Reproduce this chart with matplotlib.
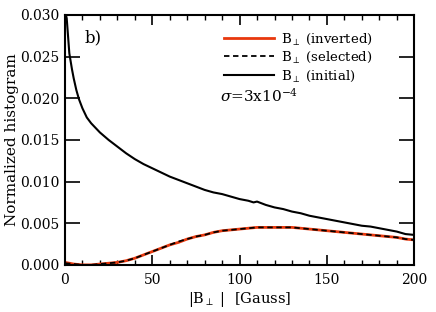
import matplotlib
matplotlib.use("Agg")
import matplotlib.pyplot as plt
from matplotlib.ticker import MultipleLocator

plt.rcParams['font.family'] = ['DejaVu Serif']
plt.rcParams['mathtext.fontset'] = 'dejavuserif'

b_init = [0, 1, 2.5, 4, 5, 6.5, 8, 10, 12.5, 15, 20, 25, 30, 35, 40, 45, 50, 55, 60, 65, 70,
          75, 80, 85, 90, 95, 100, 105, 108, 110, 115, 120, 125, 130, 135, 140, 145, 150,
          155, 160, 165, 170, 175, 180, 185, 190, 195, 200]
h_init = [0.0305, 0.0296, 0.0254, 0.0235, 0.0224, 0.0210, 0.0199, 0.0188, 0.0177, 0.0170,
          0.0159, 0.0150, 0.0142, 0.0134, 0.0127, 0.0121, 0.0116, 0.0111,
          0.0106, 0.0102, 0.0098, 0.0094, 0.0090, 0.0087, 0.0085, 0.0082, 0.0079, 0.0077,
          0.0075, 0.0076, 0.0072, 0.0069, 0.0067, 0.0064, 0.0062, 0.0059, 0.0057, 0.0055,
          0.0053, 0.0051, 0.0049, 0.0047, 0.0046, 0.0044, 0.0042, 0.0040, 0.0037, 0.0036]

b_red = [0, 5, 10, 15, 20, 25, 30, 35, 40, 45, 50, 55, 60, 65, 70, 75, 80, 85, 90, 95, 100,
         105, 110, 115, 120, 125, 130, 135, 140, 145, 150, 155, 160, 165, 170, 175, 180,
         185, 190, 195, 200]
h_inverted = [0.0003, 0.0001, 0.0000, 0.0000, 0.0001, 0.0002, 0.0003, 0.0005, 0.0008, 0.0012,
              0.0016, 0.0020, 0.0024, 0.0027, 0.0031, 0.0034, 0.0036, 0.0039, 0.0041, 0.0042,
              0.0043, 0.0044, 0.0045, 0.0045, 0.0045, 0.0045, 0.0045, 0.0044, 0.0043, 0.0042,
              0.0041, 0.0040, 0.0039, 0.0038, 0.0037, 0.0036, 0.0035, 0.0034, 0.0033, 0.0031,
              0.0030]
h_selected = [0.0002, 0.0001, 0.0000, 0.0000, 0.0001, 0.0002, 0.0003, 0.0005, 0.0008, 0.0012,
              0.0016, 0.0020, 0.0024, 0.0028, 0.0031, 0.0034, 0.0036, 0.0039, 0.0041, 0.0042,
              0.0043, 0.0044, 0.0045, 0.0045, 0.0045, 0.0045, 0.0045, 0.0044, 0.0043, 0.0042,
              0.0041, 0.0040, 0.0039, 0.0038, 0.0037, 0.0036, 0.0035, 0.0034, 0.0033, 0.0031,
              0.0030]

fig = plt.figure(figsize=(4.36, 3.12), dpi=100)
ax = fig.add_axes([0.149, 0.151, 0.801, 0.801])

l1, = ax.plot(b_red, h_inverted, color='#e8380d', lw=2.0)
l2, = ax.plot(b_red, h_selected, color='black', lw=1.3, ls=(0, (3, 2)))
l3, = ax.plot(b_init, h_init, color='black', lw=1.5)

ax.set_xlim(0, 200)
ax.set_ylim(0, 0.030)
ax.xaxis.set_major_locator(MultipleLocator(50))
ax.xaxis.set_minor_locator(MultipleLocator(10))
ax.yaxis.set_major_locator(MultipleLocator(0.005))
ax.yaxis.set_major_formatter(matplotlib.ticker.FormatStrFormatter('%.3f'))
ax.tick_params(axis='x', which='major', direction='in', length=7, width=1.2,
               top=True, bottom=True, labelsize=10, pad=6)
ax.tick_params(axis='x', which='minor', direction='in', length=3.5, width=1.0,
               top=True, bottom=True)
ax.tick_params(axis='y', which='major', direction='in', length=10.5, width=1.2,
               left=True, right=True, labelsize=10, pad=4)
for s in ax.spines.values():
    s.set_linewidth(1.5)

ax.set_xlabel(r'|B$_\perp$ |  [Gauss]', fontsize=10.5, labelpad=2)
ax.set_ylabel('Normalized histogram', fontsize=11, labelpad=1)

ax.text(0.057, 0.91, 'b)', transform=ax.transAxes, fontsize=12, va='center')

leg = ax.legend([l1, l2, l3],
                [r'B$_\perp$ (inverted)', r'B$_\perp$ (selected)', r'B$_\perp$ (initial)'],
                loc='upper left', bbox_to_anchor=(0.44, 0.955), frameon=False,
                fontsize=9.5, handlelength=3.8, handletextpad=0.5, labelspacing=0.25,
                borderaxespad=0)
ax.text(0.445, 0.676, r'$\sigma$=3x10$^{-4}$', transform=ax.transAxes, fontsize=11,
        va='center')

fig.savefig('out.png', dpi=100)
